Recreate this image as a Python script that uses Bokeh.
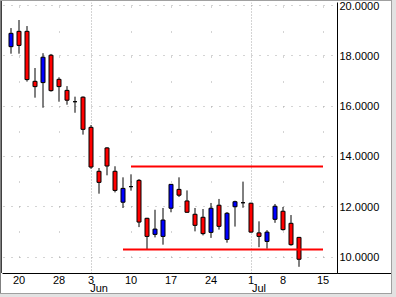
from bokeh.plotting import figure
from bokeh.models import (ColumnDataSource, FixedTicker, Grid, LinearAxis,
                          PrintfTickFormatter, Range1d)
from bokeh.embed import file_html
from bokeh.resources import INLINE

# ---------------- data ----------------
dates = ["May 17", "May 20", "May 21", "May 22", "May 23", "May 24", "May 28", "May 29",
         "May 30", "May 31", "Jun 3", "Jun 4", "Jun 5", "Jun 6", "Jun 7", "Jun 10", "Jun 11",
         "Jun 12", "Jun 13", "Jun 14", "Jun 17", "Jun 18", "Jun 19", "Jun 20", "Jun 21",
         "Jun 24", "Jun 25", "Jun 26", "Jun 27", "Jun 28", "Jul 1", "Jul 2", "Jul 3", "Jul 5",
         "Jul 8", "Jul 9", "Jul 10"]
axis_days = dates + ["Jul 11", "Jul 12", "Jul 15"]

opens = [18.37, 18.98, 18.98, 16.99, 16.94, 18.03, 17.07, 16.63, 16.18, 16.36, 15.16, 13.41,
         14.34, 13.41, 12.18, 12.80, 13.05, 11.54, 10.90, 10.82, 11.94, 12.69, 12.23, 11.70,
         11.58, 10.98, 12.06, 10.70, 12.00, 12.16, 12.14, 10.96, 10.62, 11.50, 11.82, 11.34, 10.78]
highs = [19.11, 19.43, 19.19, 17.52, 18.11, 18.08, 17.15, 16.80, 16.38, 16.39, 15.25, 13.54,
         14.37, 13.61, 13.17, 13.29, 13.10, 11.56, 11.88, 11.95, 12.90, 13.17, 12.65, 11.95,
         11.91, 12.15, 12.31, 11.79, 12.24, 13.00, 12.16, 11.42, 11.07, 12.11, 11.99, 11.67, 10.80]
lows = [18.09, 18.09, 16.98, 16.34, 15.94, 16.58, 16.18, 16.06, 15.74, 14.87, 13.51, 12.52,
        13.25, 12.57, 11.95, 12.64, 11.19, 10.29, 10.78, 10.49, 11.78, 12.39, 11.76, 11.02,
        10.86, 10.76, 11.09, 10.57, 11.21, 11.96, 10.97, 10.39, 10.33, 11.36, 11.05, 10.45, 9.61]
closes = [18.90, 18.42, 17.06, 16.78, 17.95, 16.62, 16.78, 16.24, 16.18, 15.08, 13.58, 12.97,
          13.62, 12.65, 12.73, 12.80, 11.39, 10.82, 11.11, 11.47, 12.89, 12.46, 11.78, 11.26,
          10.93, 11.94, 11.22, 11.74, 12.20, 12.16, 10.99, 10.82, 10.99, 12.02, 11.09, 10.49, 9.91]

tick_days = ["May 20", "May 28", "Jun 3", "Jun 10", "Jun 17", "Jun 24", "Jul 1", "Jul 8", "Jul 15"]
tick_labels = ["20", "28", "3", "10", "17", "24", "1", "8", "15"]
month_days = ["Jun 3", "Jul 1"]
month_labels = ["Jun", "Jul"]
y_ticks = [10, 12, 14, 16, 18, 20]

trend_start = ["Jun 10", "Jun 7"]
trend_end = ["Jul 15", "Jul 15"]
trend_level = [13.60, 10.30]

# ---------------- geometry ----------------
W, H = 396, 297
FL, FR, FT, FB = 2, 337, 2, 273
X0 = -1.0625
XPX = 8.0
X1 = X0 + (FR - FL) / XPX
YPX = 25.13
Y0 = 10 - (FB - 256.5) / YPX
Y1 = Y0 + (FB - FT) / YPX
MONTH_SHIFT = 8.0 / XPX   # month names start at their first trading day

FONT = "Liberation Sans"
GRID = "#A8A8A8"


def band(color, x, y, w, h):
    return "linear-gradient(%s,%s) %dpx %dpx / %dpx %dpx no-repeat" % (color, color, x, y, w, h)


# window frame drawn behind the transparent border area of the canvas
frame_css = ", ".join([
    band("#000000", FR, FB, 391 - FR, 1),      # x axis line continues under the price scale
    band("#A0A0A0", 391, 0, 1, 294),
    band("#A0A0A0", 0, 293, 392, 1),
    band("#E2E2E2", 392, 0, 4, 297),
    band("#E2E2E2", 0, 294, 396, 3),
    band("#A0A0A0", 0, 0, 391, 1),
    band("#808080", 0, 0, 1, 293),
    band("#404040", 1, 1, 1, 272),
]) + ", #FFFFFF"

p = figure(width=W, height=H, x_range=Range1d(X0, X1), y_range=Range1d(Y0, Y1),
           output_backend="svg", toolbar_location=None, y_axis_location="right",
           min_border_left=FL, min_border_right=W - FR, min_border_top=FT,
           min_border_bottom=H - FB, background_fill_color="white",
           border_fill_color="white", border_fill_alpha=0, outline_line_color=None,
           styles={"background": frame_css})
p.extra_x_ranges = {"months": Range1d(X0 - MONTH_SHIFT, X1 - MONTH_SHIFT)}

pos = {d: i for i, d in enumerate(axis_days)}
tick_idx = [pos[d] for d in tick_days]
month_idx = [pos[d] for d in month_days]


def style_axis(ax):
    ax.major_tick_in = 0
    ax.major_tick_out = 0
    ax.minor_tick_in = 0
    ax.minor_tick_out = 0
    ax.major_label_text_font = FONT
    ax.major_label_text_font_size = "11px"
    ax.major_label_text_color = "black"


# x axis (day numbers)
xa = p.xaxis[0]
xa.ticker = FixedTicker(ticks=tick_idx)
xa.major_label_overrides = {i: t for i, t in zip(tick_idx, tick_labels)}
style_axis(xa)
xa.axis_line_color = "black"
xa.axis_line_width = 1
xa.major_label_standoff = 2

# x axis (month names)
ma = LinearAxis(x_range_name="months", ticker=FixedTicker(ticks=month_idx),
                major_label_overrides={i: t for i, t in zip(month_idx, month_labels)})
style_axis(ma)
ma.axis_line_color = None
ma.major_tick_line_color = None
ma.minor_tick_line_color = None
ma.major_label_standoff = -5
p.add_layout(ma, "below")

# y axis (right)
ya = p.yaxis[0]
ya.ticker = FixedTicker(ticks=y_ticks)
ya.formatter = PrintfTickFormatter(format="%.4f")
style_axis(ya)
ya.axis_line_color = "black"
ya.axis_line_width = 1
ya.major_label_standoff = 2

# grids
p.ygrid.ticker = FixedTicker(ticks=y_ticks)
p.ygrid.grid_line_color = GRID
p.ygrid.grid_line_dash = "1 7"
p.ygrid.grid_line_dash_offset = 7

other_idx = [i for i in tick_idx if i not in month_idx]
p.xgrid.ticker = FixedTicker(ticks=other_idx)
p.xgrid.grid_line_color = GRID
p.xgrid.grid_line_dash = "1 24"
p.xgrid.grid_line_dash_offset = 9

p.add_layout(Grid(dimension=0, ticker=FixedTicker(ticks=month_idx),
                  grid_line_color=GRID, grid_line_dash="1 2"))

# candles
xs = [pos[d] for d in dates]
colors = ["#0000FF" if c > o else ("#FF0000" if c < o else "black") for o, c in zip(opens, closes)]
src = ColumnDataSource(dict(
    x=xs, open=opens, high=highs, low=lows, close=closes,
    top=[max(o, c) for o, c in zip(opens, closes)],
    bottom=[min(o, c) for o, c in zip(opens, closes)],
    color=colors))
p.segment(x0="x", y0="low", x1="x", y1="high", line_color="black", line_width=1, source=src)
p.vbar(x="x", width=0.5, top="top", bottom="bottom", fill_color="color",
       line_color="black", line_width=1, source=src)

# support / resistance lines
tsrc = ColumnDataSource(dict(x0=[pos[d] for d in trend_start], x1=[pos[d] for d in trend_end],
                             y=trend_level))
p.segment(x0="x0", y0="y", x1="x1", y1="y", line_color="#FF0000", line_width=2, source=tsrc)

open("out.html", "w").write(file_html(p, INLINE))
